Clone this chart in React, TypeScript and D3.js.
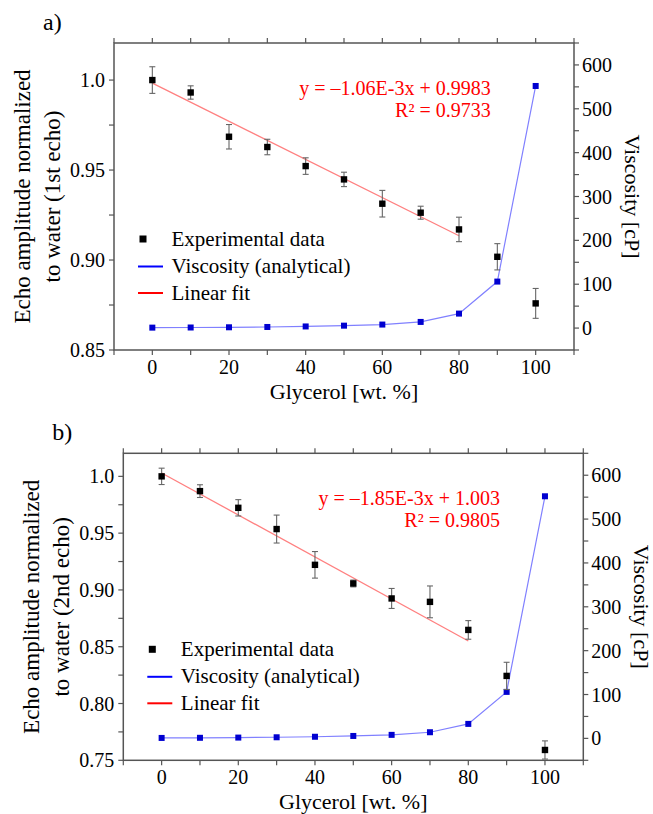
import React from 'react';
import * as d3 from 'd3';

// glycerol content [wt. %]
const glycerol = [0, 10, 20, 30, 40, 50, 60, 70, 80, 90, 100];

// panel a) 1st echo
const echo1 = [1.0, 0.9931, 0.9685, 0.9628, 0.9522, 0.9448, 0.9313, 0.9263, 0.917, 0.9018, 0.8759];
const echo1Err = [0.0074, 0.0037, 0.0068, 0.0043, 0.0046, 0.004, 0.0074, 0.0036, 0.0068, 0.0073, 0.0083];

// panel b) 2nd echo
const echo2 = [1.0, 0.987, 0.9723, 0.9536, 0.9221, 0.9057, 0.8925, 0.8895, 0.8648, 0.8243, 0.7591];
const echo2Err = [0.0072, 0.0056, 0.0072, 0.0123, 0.0117, 0.003, 0.0088, 0.014, 0.0082, 0.012, 0.008];

// analytical viscosity [cP]
const viscosity = [1.0, 1.3, 1.8, 2.5, 3.7, 5.5, 8, 14, 33, 106, 552];

// linear fits (slope, intercept) from the plot, drawn 0..80 wt. %
const fit1 = { slope: -1.06e-3, intercept: 0.9983, eq: 'y = \u20131.06E-3x + 0.9983', r2: 'R\u00b2 = 0.9733' };
const fit2 = { slope: -1.85e-3, intercept: 1.003, eq: 'y = \u20131.85E-3x + 1.003', r2: 'R\u00b2 = 0.9805' };
const fitRange = [0, 80];

const legendLabels = ['Experimental data', 'Viscosity (analytical)', 'Linear fit'];

const FONT = '"Liberation Serif", "Times New Roman", serif';
const AXIS = '#555';

type PanelProps = {
  left: number;
  top: number;
  tag: string;
  echo: number[];
  err: number[];
  fit: typeof fit1;
  yDomain: [number, number];
  yTicks: number[];
  yMinor: number[];
  yTitle2: string;
};

const W = 460;
const H = 307;

const Panel = ({ left, top, tag, echo, err, fit, yDomain, yTicks, yMinor, yTitle2 }: PanelProps) => {
  const x = d3.scaleLinear().domain([-10, 110]).range([0, W]);
  const y = d3.scaleLinear().domain(yDomain).range([H, 0]);
  const yr = d3.scaleLinear().domain([-50, 650]).range([H, 0]);

  const xTicks = d3.range(-10, 111, 10);
  const xLabels = [0, 20, 40, 60, 80, 100];
  const rMajor = d3.range(0, 601, 100);
  const rMinor = d3.range(-50, 651, 100);

  const viscLine = d3.line<number>().x((_, i) => x(glycerol[i])).y(d => yr(d))(viscosity) || '';
  const fitLine = d3.line<number>().x(d => x(d)).y(d => y(fit.slope * d + fit.intercept))(fitRange) || '';

  const fmt = (v: number) => (Math.abs(v - 1) < 1e-9 ? '1.0' : d3.format('.2f')(v));

  return (
    <g transform={`translate(${left},${top})`} fontFamily={FONT}>
      <text x={-71} y={-13} fontSize={24}>{tag}</text>

      {/* ticks */}
      {xTicks.map(t => (
        <g key={'x' + t} stroke={AXIS} strokeWidth={1.2}>
          <line x1={x(t)} x2={x(t)} y1={H} y2={H + 5} />
          <line x1={x(t)} x2={x(t)} y1={0} y2={-5} />
        </g>
      ))}
      {xLabels.map(t => (
        <text key={'xl' + t} x={x(t)} y={H + 24} fontSize={20} textAnchor="middle">{t}</text>
      ))}
      {yTicks.map(t => (
        <g key={'y' + t}>
          <line x1={-5} x2={0} y1={y(t)} y2={y(t)} stroke={AXIS} strokeWidth={1.2} />
          <text x={-9} y={y(t) + 7} fontSize={20} textAnchor="end">{fmt(t)}</text>
        </g>
      ))}
      {yMinor.map(t => (
        <line key={'ym' + t} x1={-5} x2={0} y1={y(t)} y2={y(t)} stroke={AXIS} strokeWidth={1.2} />
      ))}
      {rMajor.map(t => (
        <g key={'r' + t}>
          <line x1={W} x2={W + 5} y1={yr(t)} y2={yr(t)} stroke={AXIS} strokeWidth={1.2} />
          <text x={W + 8} y={yr(t) + 7} fontSize={20}>{t}</text>
        </g>
      ))}
      {rMinor.map(t => (
        <line key={'rm' + t} x1={W} x2={W + 5} y1={yr(t)} y2={yr(t)} stroke={AXIS} strokeWidth={1.2} />
      ))}

      <rect x={0} y={0} width={W} height={H} fill="none" stroke={AXIS} strokeWidth={1.5} />

      {/* fit line */}
      <path d={fitLine} fill="none" stroke="#ff8080" strokeWidth={1.3} />

      {/* viscosity */}
      <path d={viscLine} fill="none" stroke="#8080ff" strokeWidth={1.2} />
      {viscosity.map((v, i) => (
        <rect key={'v' + i} x={x(glycerol[i]) - 3} y={yr(v) - 3} width={6} height={6} fill="#0000d0" />
      ))}

      {/* experimental data with error bars */}
      {echo.map((v, i) => {
        const cx = x(glycerol[i]);
        const y0 = y(v + err[i]);
        const y1 = y(v - err[i]);
        return (
          <g key={'e' + i}>
            <g stroke="#666" strokeWidth={1.1}>
              <line x1={cx} x2={cx} y1={y0} y2={y1} />
              <line x1={cx - 3} x2={cx + 3} y1={y0} y2={y0} />
              <line x1={cx - 3} x2={cx + 3} y1={y1} y2={y1} />
            </g>
            <rect x={cx - 3.2} y={y(v) - 3.2} width={6.4} height={6.4} fill="#000" />
          </g>
        );
      })}

      {/* fit equation */}
      <text x={376.7} y={52} fontSize={20} textAnchor="end" fill="#ff0000">{fit.eq}</text>
      <text x={376.7} y={74} fontSize={20} textAnchor="end" fill="#ff0000">{fit.r2}</text>

      {/* legend */}
      <rect x={29 - 3.5} y={196 - 3.5} width={7} height={7} fill="#000" />
      <line x1={24} x2={49} y1={223.5} y2={223.5} stroke="#0000ff" strokeWidth={2} />
      <line x1={24} x2={49} y1={250} y2={250} stroke="#ff0000" strokeWidth={2} />
      {legendLabels.map((l, i) => (
        <text key={l} x={57.5} y={196 + 7 + i * 27} fontSize={21}>{l}</text>
      ))}

      {/* axis titles */}
      <text x={W / 2} y={H + 48.5} fontSize={22} textAnchor="middle">Glycerol [wt. %]</text>
      <g transform={`translate(${-84},${H / 2}) rotate(-90)`}>
        <text x={0} y={0} fontSize={23} textAnchor="middle">Echo amplitude normalized</text>
        <text x={0} y={30} fontSize={23} textAnchor="middle">{yTitle2}</text>
      </g>
      <g transform={`translate(${W + 51},${H / 2}) rotate(90)`}>
        <text x={0} y={0} fontSize={22} textAnchor="middle">Viscosity [cP]</text>
      </g>
    </g>
  );
};

export default function App() {
  return (
    <div style={{ position: 'absolute', left: 0, top: 0 }}>
      <svg width={653} height={814} style={{ display: 'block', background: '#fff' }}>
        <Panel
          left={114}
          top={43}
          tag="a)"
          echo={echo1}
          err={echo1Err}
          fit={fit1}
          yDomain={[0.85, 1.0206]}
          yTicks={[0.85, 0.9, 0.95, 1.0]}
          yMinor={[0.875, 0.925, 0.975]}
          yTitle2="to water (1st echo)"
        />
        <Panel
          left={123.3}
          top={453.3}
          tag="b)"
          echo={echo2}
          err={echo2Err}
          fit={fit2}
          yDomain={[0.75, 1.0203]}
          yTicks={[0.75, 0.8, 0.85, 0.9, 0.95, 1.0]}
          yMinor={[0.775, 0.825, 0.875, 0.925, 0.975]}
          yTitle2="to water (2nd echo)"
        />
      </svg>
    </div>
  );
}
